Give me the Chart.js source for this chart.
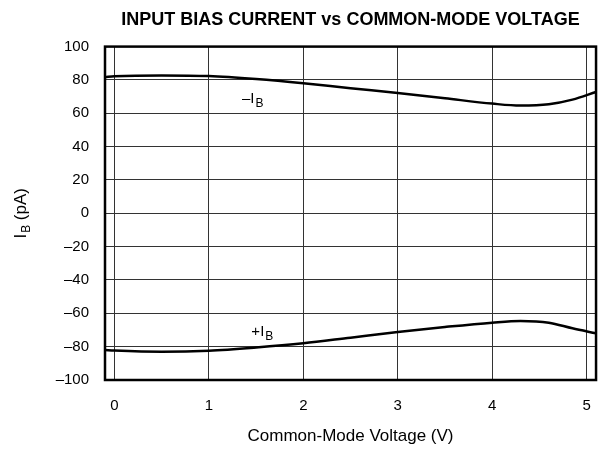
<!DOCTYPE html>
<html>
<head>
<meta charset="utf-8">
<script src="https://cdn.jsdelivr.net/npm/chart.js@4.4.1/dist/chart.umd.min.js"></script>
<style>
    html, body { margin: 0; padding: 0; background: #fff; }
    #wrap { width: 608px; height: 451px; position: relative; }
</style>
</head>
<body>
<div id="wrap"><canvas id="biasChart"></canvas></div>
<script>
// Input bias current vs common-mode voltage
const voltage = [-0.1, 0, 0.5, 1, 1.5, 2, 2.5, 3, 3.5, 4, 4.3, 4.6, 4.85, 5.1];
const negBias = [81.8, 82.2, 82.7, 82.3, 80.5, 78, 75, 72.2, 69, 65.8, 64.6, 65.4, 68.2, 72.8];
const posBias = [-82, -82.3, -83, -82.4, -80.5, -78, -74.6, -71.2, -68.2, -65.6, -64.6, -65.6, -69, -72];
const xTicks = [0, 1, 2, 3, 4, 5];
const yTicks = [-100, -80, -60, -40, -20, 0, 20, 40, 60, 80, 100];

const FONT = '"Liberation Sans", Arial, Helvetica, sans-serif';

function toPoints(xs, ys) {
    return xs.map((x, i) => ({ x: x, y: ys[i] }));
}

// draws main text + subscript (+ optional trailing text), starting at px
function subText(ctx, main, sub, rest, px, py, size, subSize) {
    ctx.font = size + 'px ' + FONT;
    ctx.fillText(main, px, py);
    let w = ctx.measureText(main).width;
    ctx.font = subSize + 'px ' + FONT;
    ctx.fillText(sub, px + w + 1, py + 4);
    w += ctx.measureText(sub).width + 1;
    if (rest) {
        ctx.font = size + 'px ' + FONT;
        ctx.fillText(rest, px + w, py);
    }
}

function subWidth(ctx, main, sub, rest, size, subSize) {
    ctx.font = size + 'px ' + FONT;
    let w = ctx.measureText(main).width + ctx.measureText(rest).width + 1;
    ctx.font = subSize + 'px ' + FONT;
    return w + ctx.measureText(sub).width;
}

// frame, y-axis title and curve labels with subscripts
const decorations = {
    id: 'decorations',
    afterDraw(chart) {
        const ctx = chart.ctx;
        const area = chart.chartArea;
        const xs = chart.scales.x;
        const ys = chart.scales.y;

        ctx.save();
        ctx.strokeStyle = '#000';
        ctx.lineWidth = 2.5;
        ctx.strokeRect(area.left, area.top, area.right - area.left, area.bottom - area.top);

        ctx.fillStyle = '#000';
        ctx.textAlign = 'left';
        ctx.textBaseline = 'alphabetic';
        subText(ctx, '\u2013I', 'B', '', xs.getPixelForValue(1.35), ys.getPixelForValue(66.4), 15, 12);
        subText(ctx, '+I', 'B', '', xs.getPixelForValue(1.45), ys.getPixelForValue(-73.4), 15, 12);

        // y axis title
        ctx.translate(26, (area.top + area.bottom) / 2);
        ctx.rotate(-Math.PI / 2);
        const w = subWidth(ctx, 'I', 'B', ' (pA)', 17, 12);
        subText(ctx, 'I', 'B', ' (pA)', -w / 2, 0, 17, 12);
        ctx.restore();
    }
};

const chart = new Chart(document.getElementById('biasChart'), {
    type: 'line',
    data: {
        datasets: [
            {
                label: '-IB',
                data: toPoints(voltage, negBias),
                borderColor: '#000',
                borderWidth: 2.5,
                pointRadius: 0,
                cubicInterpolationMode: 'monotone',
                fill: false
            },
            {
                label: '+IB',
                data: toPoints(voltage, posBias),
                borderColor: '#000',
                borderWidth: 2.5,
                pointRadius: 0,
                cubicInterpolationMode: 'monotone',
                fill: false
            }
        ]
    },
    options: {
        responsive: true,
        maintainAspectRatio: false,
        animation: false,
        layout: {
            padding: { left: 0, right: 11, top: 0, bottom: 0 }
        },
        plugins: {
            legend: { display: false },
            tooltip: { enabled: false },
            title: {
                display: true,
                fullSize: false,
                text: 'INPUT BIAS CURRENT vs COMMON-MODE VOLTAGE',
                color: '#000',
                align: 'center',
                font: { family: FONT, size: 18, weight: 'bold' },
                padding: { top: 9, bottom: 16 }
            }
        },
        scales: {
            x: {
                type: 'linear',
                min: -0.1,
                max: 5.1,
                afterBuildTicks: (scale) => {
                    scale.ticks = xTicks.map(v => ({ value: v }));
                },
                afterFit: (scale) => { scale.height = 71; },
                border: { display: false },
                grid: { color: '#333', lineWidth: 1, drawTicks: false },
                ticks: {
                    color: '#000',
                    padding: 17,
                    font: { family: FONT, size: 15 }
                },
                title: {
                    display: true,
                    text: 'Common-Mode Voltage (V)',
                    color: '#000',
                    font: { family: FONT, size: 17 },
                    padding: { top: 10 }
                }
            },
            y: {
                min: -100,
                max: 100,
                afterBuildTicks: (scale) => {
                    scale.ticks = yTicks.map(v => ({ value: v }));
                },
                afterFit: (scale) => { scale.width = 105; },
                border: { display: false },
                grid: { color: '#333', lineWidth: 1, drawTicks: false },
                ticks: {
                    color: '#000',
                    padding: 16,
                    font: { family: FONT, size: 15 },
                    callback: (v) => String(v).replace('-', '\u2013')
                }
            }
        }
    },
    plugins: [decorations]
});
</script>
</body>
</html>
